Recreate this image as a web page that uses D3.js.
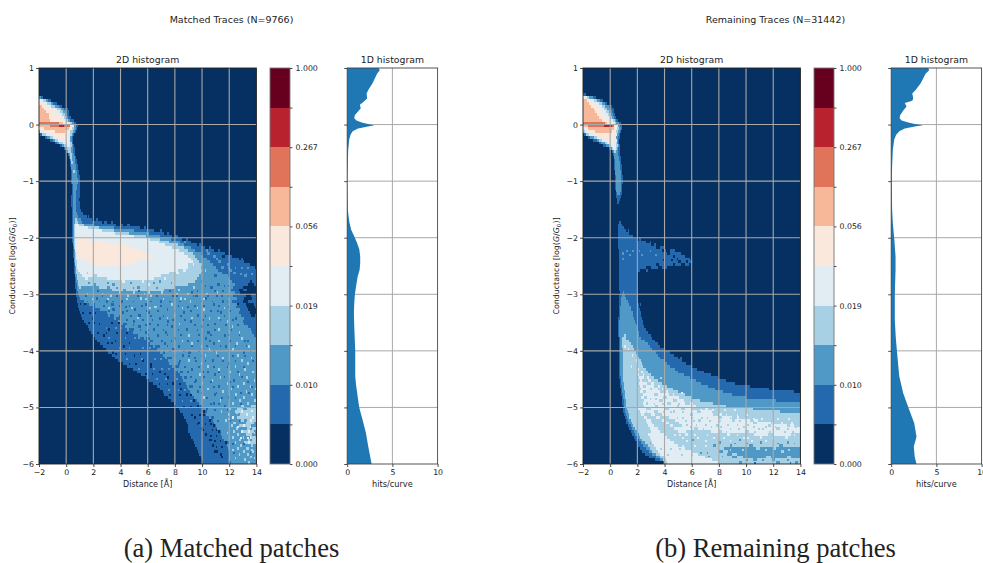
<!DOCTYPE html>
<html>
<head>
<meta charset="utf-8">
<script src="https://cdn.jsdelivr.net/npm/d3@7"></script>
<style>
  html, body { margin: 0; padding: 0; background: #fff; overflow: hidden; }
  svg { display: block; }
  text { font-family: "DejaVu Sans", sans-serif; fill: #222; }
</style>
</head>
<body>
<div id="chart"></div>
<script>
// Levels of the stepped colour scale, dark blue to dark red
const levelColors = ['#053061', '#2468ad', '#5098c6', '#a7d0e4', '#e1edf3', '#fae8dd', '#f7b799', '#e0745a', '#b8222f', '#67001f']
const colorbarLabels = ['0.000', '', '0.010', '', '0.019', '', '0.056', '', '0.267', '', '1.000']

const distanceTicks = [-2, 0, 2, 4, 6, 8, 10, 12, 14]
const conductanceTicks = [1, 0, -1, -2, -3, -4, -5, -6]
const hitsTicks = [0, 5, 10]

// Each row: top conductance of a 0.05 tall row, then level, end distance, level, end distance ... last level
const matchedRows = [
  '.5 2 -1.85 1 -1.7 0',
  '.45 4 -1.7 3 -1.5 2 -1.35 1 -1.15 0',
  '.4 5 -1.7 4 -1.4 3 -1.15 2 -.95 1 -.7 0',
  '.35 6 -1.8 5 -1.35 4 -1.1 3 -.8 2 -.5 1 -.3 0',
  '.3 6 -1.6 5 -1.05 4 -.7 3 -.4 2 -.15 1 .1 0',
  '.25 6 -1.45 5 -.85 4 -.45 3 -.25 2 0 1 .2 0',
  '.2 6 -1.3 5 -.6 4 -.3 3 -.1 2 .05 1 .22 0',
  '.15 6 -1.25 5 -.4 4 -.15 3 0 2 .15 1 .33 0',
  '.1 6 -1.2 5 -.2 4 0 3 .15 2 .3 1 .55 0',
  '.05 7 -.5 6 -.2 5 .05 4 .25 3 .4 2 .55 1 .72 0',
  '0 6 -1.2 7 -.5 8 -.15 7 .28 5 .45 4 .55 2 .7 1 .85 0',
  '-.05 5 -1.65 6 .2 5 .45 3 .6 2 .72 1 .82 0',
  '-.1 2 -1.9 4 -1.6 5 -.85 6 -.1 5 .3 3 .5 2 .62 1 .72 0',
  '-.15 0 -1.93 1 -1.75 3 -1.5 4 -1.1 5 .15 4 .3 3 .42 2 .5 1 .58 0',
  '-.2 0 -1.56 1 -1.4 2 -1.2 3 -1 4 -.6 5 .15 4 .3 2 .42 1 .5 0',
  '-.25 0 -1.2 1 -1 2 -.85 3 -.6 4 -.25 5 .15 4 .3 2 .4 1 .47 0',
  '-.3 0 -.82 1 -.65 2 -.5 3 -.25 4 .3 3 .4 2 .45 1 .5 0',
  '-.35 0 -.45 1 -.3 2 -.15 3 .05 4 .25 3 .4 2 .48 1 .57 0',
  '-.4 0 -.15 1 -.05 2 .05 3 .35 2 .5 1 .62 0',
  '-.45 0 0 1 .05 2 .12 3 .35 2 .52 1 .65 0',
  '-.5 0 .1 1 .18 2 .25 3 .4 2 .58 1 .68 0',
  '-.55 0 .2 1 .25 2 .3 3 .42 2 .62 1 .75 0',
  '-.6 0 .25 1 .3 2 .35 3 .45 2 .65 1 .78 0',
  '-.65 0 .28 1 .33 2 .38 3 .48 2 .68 1 .82 0',
  '-.7 0 .3 1 .35 2 .72 1 .88 0',
  '-.75 0 .32 1 .38 2 .75 1 .9 0',
  '-.8 0 .35 1 .42 2 .5 3 .62 2 .78 1 .95 0',
  '-.85 0 .35 1 .42 2 .8 1 .98 0',
  '-.9 0 .38 1 .45 2 .82 1 1 0',
  '-.95 0 .38 1 .45 2 .85 1 1 0',
  '-1 0 .38 1 .45 2 .85 1 1 0',
  '-1.05 0 .4 1 .5 2 .8 1 1.02 0',
  '-1.1 0 .4 1 .48 2 .78 1 1 0',
  '-1.15 0 .4 1 .5 2 .75 1 1.02 0',
  '-1.2 0 .4 1 .48 2 .72 1 1 0',
  '-1.25 0 .38 1 .5 2 .7 1 1 0',
  '-1.3 0 .38 1 .5 2 .72 1 .98 0',
  '-1.35 0 .38 1 .52 2 .7 1 1 0',
  '-1.4 0 .38 1 .5 2 .72 1 1 0',
  '-1.45 0 .4 1 .52 2 .7 1 1.02 0',
  '-1.5 0 .4 1 .5 2 .75 1 1.1 0',
  '-1.55 0 .42 1 .5 2 .8 1 1.25 0',
  '-1.6 0 .42 1 .5 2 .85 1 1.5 0 1.6 1 1.7 0',
  '-1.65 0 .45 1 .52 2 .65 3 .8 2 1.1 1 1.9 0 2.2 1 2.35 0',
  '-1.7 0 .45 1 .52 2 .62 3 .9 2 1.2 1 2.6 0 2.8 1 3 0 3.3 1 3.45 0',
  '-1.75 0 .45 1 .5 2 .58 3 .68 4 .95 3 1.3 2 2 1 3.7 0 4 1 4.2 0 4.5 1 4.7 0',
  '-1.8 0 .45 1 .52 2 .58 3 .64 4 1.6 3 2.4 2 3.5 1 5.4 0 5.7 1 5.85 0',
  '-1.85 0 .45 1 .5 2 .56 3 .62 4 2.6 3 3.5 2 5 1 6.5 0 6.9 1 7.05 0',
  '-1.9 0 .45 1 .5 2 .56 3 .62 4 3.6 3 4.6 2 6.1 1 7.2 0 7.4 1 7.55 0',
  '-1.95 0 .45 1 .5 2 .56 3 .62 4 5 3 5.9 2 6.9 1 7.8 0 8 1 8.2 0',
  '-2 0 .45 1 .5 2 .56 3 .62 4 .8 5 1.7 4 6.2 3 6.9 2 7.7 1 8.5 0 8.8 1 8.95 0',
  '-2.05 0 .45 1 .5 2 .56 3 .64 4 .8 5 3 4 6.8 3 7.6 2 8.4 1 8.7 2 8.85 1 9.2 0',
  '-2.1 0 .48 1 .53 2 .6 3 .66 4 .82 5 4.3 4 7.3 3 8.2 2 8.7 1 9.6 0 9.8 1 9.95 0',
  '-2.15 0 .5 1 .55 2 .6 3 .68 4 .84 5 4.8 4 7.8 3 8.7 2 9.2 1 10.2 0 10.5 1 10.65 0',
  '-2.2 0 .5 1 .56 2 .62 3 .68 4 .86 5 5.5 4 8.3 3 9 2 9.5 1 10.3 2 10.45 1 10.9 0 11.2 1 11.3 0',
  '-2.25 0 .52 1 .58 2 .64 3 .7 4 .88 5 6 4 8.7 3 9.3 2 9.9 1 10.4 2 10.6 1 11.7 0',
  '-2.3 0 .52 1 .58 2 .64 3 .72 4 .9 5 6.4 4 9 3 9.5 2 10.1 1 10.8 2 11 1 11.5 0 11.7 1 12.2 0',
  '-2.35 0 .54 1 .6 2 .66 3 .74 4 1.1 5 6 4 9.2 3 9.6 2 10.4 1 11 2 11.2 1 12.7 0 12.9 1 13 0',
  '-2.4 0 .55 1 .6 2 .66 3 .76 4 1.6 5 5.2 4 9.3 3 9.8 2 10.6 1 11.2 2 11.4 1 13.1 0',
  '-2.45 0 .56 1 .62 2 .68 3 .78 4 2 5 4.6 4 9 3 9.3 4 9.4 3 10 2 10.8 1 11.8 2 12 1 13.5 0',
  '-2.5 0 .58 1 .64 2 .7 3 .82 4 9 3 9.9 2 11 1 11.4 2 11.6 1 13.9 0',
  '-2.55 0 .6 1 .66 2 .72 3 .9 4 8.2 3 8.6 4 8.8 3 10 2 10.2 3 10.3 2 11.2 1 12 2 12.2 1',
  '-2.6 0 .6 1 .66 2 .74 3 1 4 1.5 3 1.6 4 7.6 3 8.1 4 8.3 3 9.9 2 11.5 1 12.3 2 12.5 1',
  '-2.65 0 .62 1 .68 2 .76 3 1.2 4 2 3 2.3 4 7 3 9.8 2 10.9 1 11.1 2 11.9 1 13.1 2 13.3 1',
  '-2.7 0 .62 1 .7 2 .8 3 1.4 4 1.6 3 3 4 6.5 3 7.2 4 7.35 3 9.6 2 12 1',
  '-2.75 0 .64 1 .72 2 .85 3 4.1 4 4.3 3 5.6 4 5.75 3 6.8 2 7 3 9.5 2 9.9 1 10 2 12.2 1 13.5 0 13.7 1',
  '-2.8 0 .66 1 .76 2 .9 3 2 2 2.2 3 3.4 2 3.6 3 6 4 6.15 3 9 2 11.1 1 11.3 2 12.4 1 13.4 0 13.8 1',
  '-2.85 0 .68 1 .78 2 .95 3 1.1 2 2.4 3 3 2 3.2 3 5.2 2 5.4 3 8 2 9.3 3 9.45 2 10.6 1 10.8 2 12.3 1 13 0 14',
  '-2.9 0 .7 1 .8 2 3.4 3 4.2 2 4.4 3 7.2 2 8.2 3 8.35 2 12.1 1 12.7 0 13 1 13.3 0',
  '-2.95 0 .7 1 .85 2 3.9 3 4.05 2 4.9 3 5.1 2 6 3 6.2 2 7 3 7.15 2 9.2 1 9.35 2 11.1 3 11.2 2 12.4 1 12.8 0',
  '-3 0 .72 1 .95 2 3.2 3 3.35 2 4.5 3 4.65 2 6.2 3 6.35 2 7.8 1 7.95 2 9.5 1 9.7 2 11 1 11.2 2 12.3 1 13.2 0 13.6 1',
  '-3.05 0 .76 1 1.05 2 2.2 1 2.35 2 5.4 3 5.55 2 8.4 3 8.5 2 10.2 1 10.35 2 12.6 1 13.1 0 13.7 1',
  '-3.1 0 .8 1 1.3 2 2.9 1 3.05 2 4 1 4.15 2 6.9 1 7.05 2 9.1 3 9.2 2 11.5 1 11.65 2 12.2 1 13 0 13.4 1',
  '-3.15 0 .85 1 1.7 2 2 1 2.15 2 3.3 1 3.5 2 5.8 1 5.95 2 7.7 3 7.85 2 10.8 1 10.95 2 12.6 1 13.2 0 13.8 1',
  '-3.2 0 .9 1 2.1 2 4.3 1 4.45 2 6.5 3 6.65 2 8.9 1 9.05 2 11.9 1 12 2 12.5 1 13.3 0 13.9 1',
  '-3.25 0 .94 1 2.5 2 3.4 1 3.6 2 5 1 5.15 2 7.4 1 7.5 2 10.1 3 10.2 2 12.8 1 13.4 0 14',
  '-3.3 0 1 1 3 2 4.1 1 4.25 2 6 1 6.15 2 8.6 1 8.75 2 11.3 1 11.45 2 12.7 1 13.5 0 14',
  '-3.35 0 1.1 1 3.1 2 3.25 1 3.5 2 5.3 1 5.5 2 7.9 3 8 2 9.6 1 9.75 2 12.9 1 13.6 0 13.9 1',
  '-3.4 0 1.2 1 1.9 0 2 1 3.5 2 3.65 1 4 2 6.8 1 6.95 2 10.5 3 10.6 2 12.4 1 12.55 2 13.1 1',
  '-3.45 0 1.3 1 3.8 2 4.9 1 5.05 2 7.4 1 7.55 2 9.1 1 9.25 2 11.8 3 11.9 2 13 1',
  '-3.5 0 1.45 1 2.4 0 2.5 1 4 2 4.15 1 4.5 2 6.1 1 6.25 2 8.3 3 8.4 2 10.9 1 11.05 2 13.1 1',
  '-3.55 0 1.6 1 4.3 2 5.3 1 5.5 2 7.7 1 7.85 2 9.9 1 10.05 2 12.2 3 12.3 2 13.4 1',
  '-3.6 0 1.7 1 3.1 0 3.2 1 4.5 2 4.65 1 5 2 6.4 1 6.55 2 8.8 1 8.95 2 11.2 3 11.3 2 13.6 1',
  '-3.65 0 1.85 1 4.9 2 5.8 1 6 2 7.3 1 7.45 2 10.4 1 10.55 2 12.7 3 12.8 2 13.7 1',
  '-3.7 0 2 1 2.7 0 2.85 1 5.3 2 6.7 1 6.85 2 9 3 9.1 2 11.6 1 11.75 2 13.8 1',
  '-3.75 0 2.15 1 5.7 2 5.9 1 6.2 2 7.9 1 8.05 2 10.2 1 10.35 2 12.9 3 13 2',
  '-3.8 0 2.3 1 3.6 0 3.7 1 6 2 6.2 1 6.4 2 8.5 3 8.6 2 9.6 1 9.75 2 11.2 3 11.3 2 13.3 1 13.45 2',
  '-3.85 0 2.5 1 6.2 2 7.2 1 7.35 2 9.2 3 9.3 2 10.8 1 10.95 2 12.5 3 12.65 2',
  '-3.9 0 2.7 1 4.2 0 4.35 1 6.4 2 6.55 1 6.9 2 8.2 1 8.35 2 9.9 3 10 2 11.7 1 11.85 2 13.4 3 13.5 2',
  '-3.95 0 2.9 1 6.7 2 7.8 1 8 2 10.5 3 10.6 2 12.2 3 12.35 2',
  '-4 0 3.1 1 3.4 0 3.55 1 6.9 2 7.1 1 7.3 2 9 1 9.15 2 11 3 11.1 2 13 1 13.15 2',
  '-4.05 0 3.4 1 5 0 5.1 1 7.1 2 8.5 1 8.65 2 10.2 3 10.3 2 12.6 3 12.7 2',
  '-4.1 0 3.6 1 7.3 2 7.45 1 7.8 2 9.4 1 9.55 2 11.5 3 11.6 2 13.6 3 13.7 2',
  '-4.15 0 3.8 1 5.6 0 5.75 1 7.5 2 9 3 9.1 2 10.7 1 10.85 2 12.9 3 13 2',
  '-4.2 0 4.2 1 7.6 2 8.2 1 8.35 2 9.9 3 10 2 11.9 1 12.05 2 13.3 3 13.45 2',
  '-4.25 0 4.5 1 6.2 0 6.35 1 7.8 2 7.95 1 8.3 2 10.4 3 10.5 2 12.4 3 12.5 2',
  '-4.3 0 4.9 1 8 2 9.2 1 9.35 2 11.2 3 11.3 2 13.1 3 13.2 2',
  '-4.35 0 5.2 1 6.8 0 6.95 1 8.2 2 8.35 1 8.6 2 10 1 10.15 2 12 3 12.1 2 13.7 3 13.8 2',
  '-4.4 0 5.5 1 8.4 2 9.8 3 9.9 2 10.9 1 11.05 2 12.7 3 12.8 2',
  '-4.45 0 5.9 1 7.4 0 7.55 1 8.5 2 8.65 1 8.9 2 11.3 3 11.4 2 13.2 3 13.35 2',
  '-4.5 0 6.1 1 8.6 2 9.5 1 9.65 2 10.7 3 10.8 2 12.3 1 12.45 2 13.8 3 13.9 2',
  '-4.55 0 6.4 1 7.8 0 7.95 1 8.8 2 10 3 10.1 2 11.8 3 11.9 2 13 3 13.15 2',
  '-4.6 0 6.7 1 8.9 2 9.05 1 9.3 2 11.2 1 11.35 2 12.6 3 12.7 2 13.5 3 13.6 2',
  '-4.65 0 6.9 1 8.4 0 8.55 1 9 2 10.4 3 10.5 2 12.1 3 12.2 2 13.9 3',
  '-4.7 0 7.1 1 9.1 2 9.6 1 9.75 2 11.5 3 11.6 2 13.2 3 13.3 2',
  '-4.75 0 7.2 1 8.8 0 8.95 1 9.2 2 10.9 1 11.05 2 12.4 3 12.55 2 13.6 3 13.75 2',
  '-4.8 0 7.5 1 9.4 2 10.1 3 10.2 2 11.9 1 12 2 13 3 13.15 2',
  '-4.85 0 7.7 1 9.3 0 9.45 1 9.6 2 11.3 3 11.4 2 12.7 3 12.85 2 13.8 3',
  '-4.9 0 7.9 1 9.8 2 10.8 1 10.95 2 12.2 3 12.35 2 13.3 3 13.45 2',
  '-4.95 0 8.1 1 9.6 0 9.75 1 10 2 11.6 1 11.75 2 12.9 3 13.1 2 13.6 3',
  '-5 0 8.3 1 10.1 2 10.3 1 10.45 2 12 3 12.15 2 12.6 3 13 2 13.3 3 14',
  '-5.05 0 8.4 1 10.1 0 10.2 1 10.4 2 11.4 3 11.5 2 12.4 3 12.9 4 13 3 13.6 4 13.75 3',
  '-5.1 0 8.6 1 10.3 2 11.9 3 12.05 2 12.8 3 13.2 4 13.35 3 14',
  '-5.15 0 8.7 1 9.4 0 9.55 1 10.5 2 10.65 1 10.9 2 12.2 4 12.35 2 12.6 3 13.7 4 13.85 3',
  '-5.2 0 8.8 1 10.5 0 10.65 1 10.8 2 11.7 3 11.85 2 12.9 3 13.1 2 13.3 3 13.5 4 13.65 3',
  '-5.25 0 8.9 1 9.7 0 9.85 1 10.9 2 12.3 3 12.5 2 13.2 3 13.8 2',
  '-5.3 0 9 1 10.8 0 10.95 1 11 2 12.1 3 12.25 2 12.7 3 13 4 13.15 3 13.6 2',
  '-5.35 0 9 1 9.9 0 10.1 1 11.1 2 12.5 3 12.65 2 13.3 3 13.5 2 13.7 3',
  '-5.4 0 9 1 11.2 0 11.3 1 11.4 2 12.3 3 12.4 2 12.9 4 13.05 3 13.4 4 13.5 3 13.8 2',
  '-5.45 0 9.1 1 10.2 0 10.4 1 11.4 2 12.6 3 12.75 2 13.2 3 13.7 2',
  '-5.5 0 9.2 1 11.5 2 12.2 3 12.35 2 13 3 13.1 2 13.5 4 13.6 3',
  '-5.55 0 9.3 1 10.5 0 10.7 1 11.6 2 12.7 3 12.85 2 13.4 3 13.55 2 13.7 3',
  '-5.6 0 9.4 1 11.7 0 11.85 1 11.95 2 12.4 3 12.5 2 13.1 3 13.4 4 13.5 3 14',
  '-5.65 0 9.5 1 10.7 0 10.9 1 11.8 2 12.8 3 12.95 2 13.6 3 13.75 2',
  '-5.7 0 9.6 1 11.9 2 12.6 3 12.7 2 13.2 3 13.45 2',
  '-5.75 0 9.7 1 10.9 0 11.2 1 11.95 2 13 3 13.15 2 13.7 3 13.85 2',
  '-5.8 0 9.8 1 11.3 0 11.5 1 12 2 12.7 3 12.8 2 13.3 3 13.45 2',
  '-5.85 0 9.9 1 11.4 0 11.55 1 12 2 13.5 3 13.65 2',
  '-5.9 0 10 1 12 2 13.1 3 13.25 2',
  '-5.95 0 10.1 1 12.1 2 13.4 3 13.55 2'
]

// Single cells: conductance, level, then the start distance of each cell
const matchedSpeckle = [
  '-2.52 2 11.9 12.4 12.9 13.3',
  '-2.62 2 12.8 13.2 13.6',
  '-2.72 3 7.8 8.5 9.1',
  '-2.78 2 1.6 3 4.7 6.4 7.7',
  '-2.83 1 10.2 11.6 11.9',
  '-2.88 2 1.8 3.7 4.9 6.6',
  '-2.92 1 2.3 5.3 7.6 9.6 10.9 11.5',
  '-2.97 3 1.5 2.6 5.7 8.1 8.9 10.3',
  '-3.02 1 1.4 2.6 3.7 5.2 6.6 8.1 9.3 10.4 11.4 11.9',
  '-3.07 3 1.9 3 4.4 5.8 7.1 8.7 10.1',
  '-3.11 1 1.5 2.4 3.4 4.9 6.2 7.6 8.3 9.9 10.7 11.8',
  '-3.16 0 1 1.3 12.6',
  '-3.19 1 2.7 3.9 4.6 5.5 6.9 8.2 9.4 10.1 11.2',
  '-3.23 3 3.1 4.8 6.1 8.5 9.6 11.6',
  '-3.27 1 3.1 4.4 5.9 6.7 7.9 9.1 10.6 11.1 12',
  '-3.32 0 1.2 1.7 2.1',
  '-3.36 1 3.9 4.7 6.2 7.1 8.4 10.2 11.6',
  '-3.4 3 5.2 7.4 9.2 11.2',
  '-3.44 1 4.4 5.6 6.3 7.8 8.7 10 11.3 12.2',
  '-3.49 0 1.6 2 3.3 3.8',
  '-3.53 1 4.9 5.8 6.7 7.4 9.4 10.4 11.7 12.6',
  '-3.58 2 2.9 3.6 4 9.2 10.7',
  '-3.62 1 5.4 6 7.1 8.2 9.6 10.9 12.1',
  '-3.67 0 2.3 2.9 3.7 4.4',
  '-3.71 1 6 7.4 8.4 9.7 10.6 11.9 12.7',
  '-3.76 2 3.1 4.3 5 5.3',
  '-3.8 1 7 7.7 8.9 10.5 12 13.1',
  '-3.85 0 3 3.3 4.6',
  '-3.89 1 7.4 9.2 10.3 11.3 12.4 13.2',
  '-3.94 2 3.9 4.6 5.6 6.1',
  '-3.98 1 7.6 8.6 9.7 10.8 11.9 13.5',
  '-4.03 0 3.6 4.3 5.4',
  '-4.07 1 7.9 9 9.9 11.1 12.2 13.1',
  '-4.12 2 4.4 5.5 6.5 6.9',
  '-4.16 1 8.3 9.5 10.2 11.5 12.4 13.7',
  '-4.21 0 4.6 5.1 6.2',
  '-4.26 1 8.7 9.7 10.8 11.8 13',
  '-4.3 2 5.3 6.4 7 7.5',
  '-4.35 1 8.9 10.4 11.2 12.6',
  '-4.39 0 5.8 6.3 7.2',
  '-4.44 1 9.1 10.1 11.6 12.9',
  '-4.48 2 6.6 7.3 8.1',
  '-4.53 1 9.4 10.6 12 13.3',
  '-4.57 0 6.8 7.4 8.3',
  '-4.62 1 9.8 10.8 12.2 13.6',
  '-4.67 2 7.5 8.2 8.7',
  '-4.72 1 9.9 11 12.8 13.4',
  '-4.77 0 7.6 8.3 9.1',
  '-4.82 1 10.3 11.4 12.4',
  '-4.87 2 8.5 9.1',
  '-4.92 1 10.6 11.2 12.8',
  '-4.98 0 8.6 9.1 9.9',
  '-5.03 1 10.9 11.8',
  '-5.08 3 12.5 13.1 13.6',
  '-5.12 0 9.2 9.8 10.1',
  '-5.18 3 11.9 12.9 13.4',
  '-5.23 1 11.1 12 12.7',
  '-5.28 0 9.6 10.2 10.6',
  '-5.33 4 12.6 13.5',
  '-5.38 0 10 10.7 11',
  '-5.43 3 11.8 13.8',
  '-5.48 0 10.6 11',
  '-5.53 4 12.8 13.3',
  '-5.58 0 10.9 11.3',
  '-5.63 1 12.2 13',
  '-5.68 0 11 11.4',
  '-5.73 3 12.2 13.6',
  '-5.78 1 12.3 13.5',
  '-5.88 3 12.4 13.8'
]

const remainingRows = [
  '.55 1 -1.75 0',
  '.5 4 -1.7 3 -1.55 2 -1.3 1 -1.05 0',
  '.45 6 -1.7 5 -1.45 4 -1.2 3 -1 2 -.75 1 -.55 0',
  '.4 6 -1.55 5 -1.2 4 -.85 3 -.6 2 -.4 1 -.25 0',
  '.35 6 -1.4 5 -.95 4 -.6 3 -.4 2 -.1 1 .15 0',
  '.3 6 -1.2 5 -.8 4 -.45 3 -.25 2 .05 1 .28 0',
  '.25 6 -1.1 5 -.65 4 -.3 3 -.05 2 .15 1 .3 0',
  '.2 6 -.95 5 -.45 4 -.15 3 .05 2 .2 1 .32 0',
  '.15 6 -.8 5 -.3 4 0 3 .15 2 .3 1 .42 0',
  '.1 6 -.6 5 -.05 4 .2 3 .35 2 .45 1 .6 0',
  '.05 7 -.4 6 -.2 5 .1 4 .35 3 .45 2 .65 1 .8 0',
  '0 6 -1.6 7 -.45 8 .1 7 .3 5 .5 4 .6 2 .75 1 .9 0',
  '-.05 4 -1.8 5 -1.6 6 .25 5 .5 3 .65 2 .78 1 .88 0',
  '-.1 3 -1.85 4 -1.65 5 -1.15 6 .15 5 .45 3 .6 2 .72 1 .82 0',
  '-.15 0 -1.95 1 -1.8 3 -1.55 4 -1.2 5 .4 4 .52 2 .62 1 .75 0',
  '-.2 0 -1.6 1 -1.45 2 -1.2 3 -1 4 -.6 5 .35 4 .45 2 .58 1 .7 0',
  '-.25 0 -1.25 1 -1 2 -.85 3 -.6 4 -.2 5 .3 4 .48 2 .55 1 .65 0',
  '-.3 0 -.85 1 -.65 2 -.4 3 -.2 4 0 5 .3 4 .45 3 .52 2 .6 1 .68 0',
  '-.35 0 -.55 1 -.3 2 -.05 3 .05 4 .45 3 .55 2 .62 1 .7 0',
  '-.4 0 -.1 1 .02 2 .1 3 .2 4 .4 3 .52 2 .6 1 .7 0',
  '-.45 0 .1 1 .18 2 .3 3 .45 2 .6 1 .72 0',
  '-.5 0 .2 1 .25 2 .58 1 .72 0',
  '-.55 0 .25 1 .3 2 .66 1 .78 0',
  '-.6 0 .27 1 .32 2 .68 1 .8 0',
  '-.65 0 .28 1 .34 2 .7 1 .82 0',
  '-.7 0 .3 1 .36 2 .72 1 .85 0',
  '-.75 0 .3 1 .36 2 .74 1 .88 0',
  '-.8 0 .32 1 .38 2 .76 1 .85 0',
  '-.85 0 .32 1 .38 2 .78 1 .9 0',
  '-.9 0 .34 1 .4 2 .8 1 .92 0',
  '-.95 0 .34 1 .4 2 .8 1 .92 0',
  '-1 0 .36 1 .42 2 .82 1 .92 0',
  '-1.05 0 .38 1 .44 2 .82 1 .9 0',
  '-1.1 0 .38 1 .46 2 .8 1 .9 0',
  '-1.15 0 .4 1 .46 2 .78 1 .88 0',
  '-1.2 0 .42 1 .5 2 .7 1 .84 0',
  '-1.25 0 .44 1 .8 0',
  '-1.3 0 .48 1 .75 0',
  '-1.35 0 .52 1 .68 0',
  '-1.7 0 .62 1 .78 0',
  '-1.75 0 .6 1 .85 0',
  '-1.8 0 .6 1 1 0',
  '-1.85 0 .6 1 1.15 0 1.3 1 1.4 0',
  '-1.9 0 .6 1 1.4 0',
  '-1.95 0 .58 1 1.7 0',
  '-2 0 .58 1 2 0 2.15 1 2.3 0',
  '-2.05 0 .6 1 2.6 0 2.9 1 3 0',
  '-2.1 0 .6 1 3 0 3.2 1 3.4 0',
  '-2.15 0 .6 1 3.4 0 3.7 1 3.95 0',
  '-2.2 0 .62 1 3.8 0 4 1 4.1 0 4.4 1 4.8 0',
  '-2.25 0 .62 1 .9 2 1 1 4.2 0 4.4 1 5.2 0',
  '-2.3 0 .62 1 4.6 0 4.8 1 5.5 0',
  '-2.35 0 .62 1 .9 2 1 1 4.9 0 5 1 5.9 0',
  '-2.4 0 .62 1 5 0 5.2 1 5.6 0 5.75 1 6 0',
  '-2.45 0 .62 1 3.4 0 3.6 1 4.6 0 4.8 1 5.2 0 5.5 1 5.8 0',
  '-2.5 0 .62 1 2.6 0 3 1 3.5 0 3.8 1 4.2 0',
  '-2.55 0 .64 1 2.2 0 2.6 1 2.8 0',
  '-2.6 0 .64 1 2 0',
  '-2.65 0 .65 1 2 0',
  '-2.7 0 .65 1 1.95 0',
  '-2.75 0 .66 1 1.95 0',
  '-2.8 0 .66 1 1.95 0',
  '-2.85 0 .67 1 2 0',
  '-2.9 0 .68 1 2 0',
  '-2.95 0 .7 1 .95 2 1.05 1 2 0',
  '-3 0 .68 1 .85 2 1.1 1 2.05 0',
  '-3.05 0 .66 1 .8 2 1.2 1 2.05 0',
  '-3.1 0 .65 1 .78 2 1.3 1 2.05 0',
  '-3.15 0 .65 1 .76 2 1.4 1 2.1 0 2.2 1 2.3 0',
  '-3.2 0 .64 1 .75 2 1.5 1 2.15 0',
  '-3.25 0 .63 1 .74 2 1.55 1 2.2 0',
  '-3.3 0 .62 1 .73 2 1.65 1 2.25 0',
  '-3.35 0 .62 1 .72 2 1.7 1 2.3 0',
  '-3.4 0 .61 1 .7 2 1.75 1 2.35 0',
  '-3.45 0 .6 1 .68 2 1.85 1 2.4 0',
  '-3.5 0 .6 1 .66 2 1.9 1 2.45 0',
  '-3.55 0 .6 1 .66 2 2 1 2.5 0',
  '-3.6 0 .6 1 .66 2 2.05 1 2.65 0',
  '-3.65 0 .6 1 .66 2 2.1 1 2.8 0',
  '-3.7 0 .6 1 .68 2 1.05 3 1.15 2 2.15 1 3 0',
  '-3.75 0 .62 1 .7 2 .9 3 1.2 2 2.3 1 3.1 0',
  '-3.8 0 .62 1 .7 2 .9 3 1.35 2 2.55 1 3.3 0',
  '-3.85 0 .63 1 .7 2 .9 3 1.5 2 2.75 1 3.5 0',
  '-3.9 0 .63 1 .7 2 .9 3 1.05 4 1.15 3 1.65 2 2.95 1 3.7 0',
  '-3.95 0 .64 1 .7 2 .92 3 1.3 4 1.4 3 1.75 2 3.1 1 4 0',
  '-4 0 .65 1 .72 2 .92 3 1.9 2 3.4 1 4.4 0',
  '-4.05 0 .65 1 .72 2 .92 3 1.6 4 1.7 3 2 2 3.5 1 4.7 0',
  '-4.1 0 .65 1 .72 2 .93 3 2.1 2 3.7 1 5 0 5.15 1 5.3 0',
  '-4.15 0 .65 1 .72 2 .93 3 1.9 4 2 3 2.25 2 4 1 5.3 0',
  '-4.2 0 .65 1 .72 2 .94 3 2.35 2 4.2 1 5.6 0',
  '-4.25 0 .65 1 .73 2 .95 3 1.5 4 1.6 3 2.45 2 4.4 1 6 0',
  '-4.3 0 .65 1 .74 2 .95 3 2 4 2.15 3 2.65 2 4.75 1 6.4 0',
  '-4.35 0 .66 1 .74 2 .96 3 2.3 4 2.4 3 2.8 2 5 1 6.9 0',
  '-4.4 0 .66 1 .75 2 .96 3 2 4 2.15 3 2.4 4 2.5 3 3 2 5.4 1 7.4 0',
  '-4.45 0 .68 1 .76 2 .97 3 2.1 4 2.5 3 2.7 4 2.85 3 3.25 2 5.9 1 7.9 0',
  '-4.5 0 .7 1 .78 2 .98 3 2.2 4 2.35 3 2.8 4 3 3 3.5 2 6.3 1 8.5 0',
  '-4.55 0 .72 1 .8 2 1 3 2.1 4 2.7 3 3 4 3.2 3 3.8 2 6.7 1 9.2 0',
  '-4.6 0 .75 1 .84 2 1.02 3 2.2 4 2.4 3 2.6 4 3.2 3 3.5 4 3.65 3 4.2 2 7.2 1 10.3 0',
  '-4.65 0 .78 1 .88 2 1.04 3 2.3 4 2.9 3 3.1 4 3.5 3 3.8 4 3.9 3 4.6 2 7.7 1 11.7 0',
  '-4.7 0 .8 1 .9 2 1.06 3 2.2 4 2.4 3 2.6 4 3.7 3 4.1 4 4.25 3 5 2 8.3 1 13.5 0',
  '-4.75 0 .82 1 .94 2 1.08 3 2.4 4 3.2 3 3.5 4 4.3 3 4.6 4 4.7 3 5.5 2 9 1',
  '-4.8 0 .85 1 .96 2 1.1 3 2.3 4 2.5 3 2.7 4 3.9 3 4.2 4 5.1 3 6 2 10 1',
  '-4.85 0 .88 1 1 2 1.13 3 2.5 4 3.6 3 3.9 4 4.6 3 4.9 4 5.4 3 6.6 2 12.2 1',
  '-4.9 0 .9 1 1.02 2 1.16 3 2.4 4 2.6 3 2.8 4 4.2 3 4.5 4 5.5 3 5.9 4 6.1 3 7.6 2',
  '-4.95 0 .93 1 1.05 2 1.2 3 2.5 4 3.3 3 3.5 4 4.9 3 5.1 4 6.3 3 8.5 2',
  '-5 0 .95 1 1.08 2 1.25 3 2 4 2.6 3 3 4 4 3 4.3 4 5.2 3 5.5 4 6 3 7 4 7.2 3 10.5 2',
  '-5.05 0 .98 1 1.12 2 1.3 3 2.2 4 3.2 3 3.5 4 4.6 3 4.8 4 6.4 3 6.7 4 7.5 3 12.5 2',
  '-5.1 0 1.02 1 1.16 2 1.35 3 2.3 4 2.5 3 3 4 3.3 3 3.8 4 5.9 3 6.1 4 7.6 3 8 4 8.2 3 14',
  '-5.15 0 1.08 1 1.22 2 1.42 3 2.5 4 2.7 3 3.4 4 3.7 3 4.3 4 7.9 3 8.2 4 9 3 9.3 4 9.5 3',
  '-5.2 0 1.14 1 1.3 2 1.5 3 2.6 4 3 3 3.8 4 4 3 4.8 4 6.5 3 6.7 4 9 3 9.2 4 10.3 3 10.6 4 10.9 3',
  '-5.25 0 1.2 1 1.38 2 1.6 3 2.7 4 3.1 3 4.1 4 4.3 3 5.1 4 10.5 3 10.8 4 11.8 3',
  '-5.3 0 1.3 1 1.5 2 1.7 3 2.8 4 3.2 3 4.4 4 4.6 3 5.3 4 7.8 3 8 4 11.6 3 11.8 4 13 3 13.2 4 13.5 3',
  '-5.35 0 1.42 1 1.6 2 1.85 3 2.9 4 3.5 3 4.7 4 6.2 3 6.5 4 12.2 3 12.5 4 14',
  '-5.4 0 1.52 1 1.72 2 1.95 3 3 4 3.7 3 5 4 5.6 3 7.4 4 8 3 8.2 4 9.9 3 10.2 4 14',
  '-5.45 0 1.62 1 1.85 2 2.1 3 2.8 4 4 3 5.5 4 5.7 3 8.6 4 8.8 3 10.6 4 11.6 3 12 4 13.3 3',
  '-5.5 0 1.72 1 1.98 2 2.22 3 2.9 4 4.2 3 11 4 11.2 3 12.9 4 13.1 3',
  '-5.55 0 1.85 1 2.1 2 2.35 3 3 4 4.4 3 6 2 6.15 3 9.5 2 9.65 3 14',
  '-5.6 0 1.95 1 2.25 2 2.55 3 3.1 4 4.7 3 8 2 8.15 3 11 2 11.2 3 13 2 13.15 3',
  '-5.65 0 2.08 1 2.4 2 2.75 3 3.2 4 5 3 7.6 2 7.8 3 8.8 2 9 3 10.2 2 10.5 3 12.4 2 12.7 3',
  '-5.7 0 2.2 1 2.6 2 2.95 3 3.4 4 5.5 3 8.4 2 10.7 3 11 2 12 3 12.2 2',
  '-5.75 0 2.35 1 2.85 2 3.1 3 3.5 4 6 3 8 2 8.3 3 8.7 2 12.6 3 12.8 2',
  '-5.8 0 2.55 1 3.05 2 3.4 3 3.7 4 6.5 3 8.6 2 9 3 9.3 2 14',
  '-5.85 0 2.85 1 3.35 2 3.65 3 4 4 7 3 9 2 9.3 3 9.8 2 11.5 3 11.8 2 13 3 13.3 2',
  '-5.9 0 3.3 1 3.65 2 3.9 3 4.1 4 7.5 3 10.5 2 10.8 3 11.9 2 12.1 3 14',
  '-5.95 0 3.9 1 4 2 4.05 3 4.15 4 7.9 3 9.5 2 9.7 3 12.2 2 12.5 3 13.6 2 13.8 3'
]

const remainingSpeckle = [
  '-2.22 2 1.2 1.6 2.1 2.9',
  '-2.29 2 1.4 2.3 3.3',
  '-2.38 0 3.9 4.5',
  '-4.47 3 3.7',
  '-4.72 4 5.2',
  '-4.83 3 2.9 3.3 4.6',
  '-4.92 3 3.2 3.8 5',
  '-5.02 4 5.9 6.6 7.5 8.4 9.1',
  '-5.07 3 2.6 3.9 4.4 5.3',
  '-5.12 4 6.6 7.2 8.5 9.3 10',
  '-5.17 3 4.9 5.3 6 6.7 7.1 8.8',
  '-5.19 4 9.9 10.5 11.1 12.3 13.1',
  '-5.23 3 3.2 5.5 6.1 7.3 8 9.5',
  '-5.26 4 11.9 12.6 13.3',
  '-5.29 3 5.6 6.3 7 8.6 9.3 10.1',
  '-5.33 3 5.9 7.4 8.1 9.8 10.5 11.4 12.1 13.6',
  '-5.37 3 6.8 7.9 8.8 9.4 10.9 11.2 13',
  '-5.42 3 4.3 5.7 8.5 10.6 11.7 12.8 13.4',
  '-5.47 4 4.7 5.1 6.2 7.1 7.9 9.3 12.2 13.5',
  '-5.52 4 5.3 6.4 7.6 8.3 9.8 10.1 11.9',
  '-5.57 4 5.6 7 8.8 10.4 11.4',
  '-5.62 2 2.9 9.1 10 12.3 13.5',
  '-5.67 4 5.3 6.2 7',
  '-5.72 3 3.7 4.4 5.1 5.9',
  '-5.74 3 8.8 9.7 11.4 13.1',
  '-5.78 2 6.6 7.1 10.1 13.4',
  '-5.82 3 4.2 5.2 6',
  '-5.85 2 7.2 8.2 10.4 12.3',
  '-5.92 2 10 11.2 13',
  '-5.97 1 10.6 13.2'
]

// 1D histograms: conductance and hits/curve
const matchedHistG = [1, .96, .9, .82, .73, .61, .55, .46, .41, .35, .29, .23, .17, .11, .07, .035, .01, -.01, -.035, -.07, -.12, -.18, -.27, -.45, -1.03, -1.5, -1.62, -1.74, -1.86, -2, -2.1, -2.2, -2.33, -2.45, -2.57, -2.69, -2.8, -3, -3.16, -3.33, -3.57, -4, -4.45, -4.63, -5, -5.22, -5.45, -5.69, -6]
const matchedHistV = [3.5, 3.6, 3.3, 3.07, 2.8, 2.33, 2.15, 2.2, 1.85, 1.4, 1.5, 1.2, .85, .78, 1.03, 1.6, 2.3, 3, 2.3, 1.2, .6, .37, .22, .11, .02, .07, .15, .26, .44, .85, 1.1, 1.33, 1.44, 1.44, 1.37, 1.15, 1.04, .85, .78, .74, .78, .89, .89, 1, 1.33, 1.7, 2.07, 2.33, 2.7]

const remainingHistG = [1, .96, .9, .82, .73, .61, .55, .46, .42, .38, .32, .26, .17, .11, .07, .035, .01, -.01, -.035, -.07, -.12, -.18, -.27, -.45, -.74, -1.03, -1.5, -1.74, -2, -2.33, -2.57, -3, -3.45, -3.75, -4, -4.45, -4.75, -5, -5.28, -5.52, -5.69, -5.87, -6]
const remainingHistV = [4.1, 4.2, 3.8, 3.55, 3.26, 2.7, 2.33, 2.44, 2.33, 1.5, 1.7, 1.4, 1, .93, 1.15, 1.9, 2.6, 3.5, 2.6, 1.5, .9, .55, .33, .18, .1, .07, .1, .18, .33, .48, .48, .4, .4, .5, .63, .89, 1.33, 1.9, 2.55, 2.8, 2.5, 2.6, 2.8]

const width = 983
const height = 563
const plotTop = 68
const plotBottom = 464
const gridColor = '#a8a8a8'
const speckleWidth = 0.125
const speckleHeight = 0.035

const svg = d3.select('#chart').append('svg').attr('width', width).attr('height', height)

function parseRow(row) {
  const t = row.split(' ').map(Number)
  const cells = []
  let start = -2
  for (let i = 1; i < t.length; i += 2) {
    const end = i + 1 < t.length ? t[i + 1] : 14
    cells.push({ g: t[0], level: t[i], from: start, to: end, tall: 0.05 })
    start = end
  }
  return cells
}

function parseSpeckle(row) {
  const [g, level, ...starts] = row.split(' ').map(Number)
  return starts.map((from) => ({ g, level, from, to: from + speckleWidth, tall: speckleHeight }))
}

function styleAxis(node) {
  node.selectAll('.domain').remove()
  node.selectAll('line').attr('stroke', '#222').attr('stroke-width', 0.8)
  node.selectAll('text').attr('font-size', 7.8)
}

function addFrame(g, x0, x1, y0, y1, stroke) {
  g.append('rect')
    .attr('x', x0)
    .attr('y', y0)
    .attr('width', x1 - x0)
    .attr('height', y1 - y0)
    .attr('fill', 'none')
    .attr('stroke', stroke)
    .attr('stroke-width', 0.9)
}

function drawPanel({ title, caption, center, heatLeft, rows, speckle, histG, histV }) {
  const g = svg.append('g')
  const heatRight = heatLeft + 217.4
  const barLeft = heatLeft + 231
  const histLeft = heatLeft + 308.2

  const x = d3.scaleLinear().domain([-2, 14]).range([heatLeft, heatRight])
  const y = d3.scaleLinear().domain([1, -6]).range([plotTop, plotBottom])
  const hits = d3.scaleLinear().domain([0, 10]).range([histLeft, histLeft + 90.4])
  const barY = d3.scaleLinear().domain([0, 10]).range([plotBottom, plotTop])

  g.append('text').attr('x', center).attr('y', 23).attr('text-anchor', 'middle').attr('font-size', 9.5).text(title)

  // 2D histogram
  g.append('rect')
    .attr('x', heatLeft)
    .attr('y', plotTop)
    .attr('width', heatRight - heatLeft)
    .attr('height', plotBottom - plotTop)
    .attr('fill', levelColors[0])

  g.append('g')
    .selectAll('rect')
    .data(rows.flatMap(parseRow).concat(speckle.flatMap(parseSpeckle)))
    .join('rect')
    .attr('shape-rendering', 'crispEdges')
    .attr('x', (d) => x(d.from))
    .attr('width', (d) => Math.max(0, x(d.to) - x(d.from)))
    .attr('y', (d) => y(d.g))
    .attr('height', (d) => y(d.g - d.tall) - y(d.g))
    .attr('fill', (d) => levelColors[d.level])

  const grid2d = g.append('g').attr('stroke', gridColor).attr('stroke-width', 1.1)
  grid2d.selectAll('.v').data(distanceTicks.slice(1, -1)).join('line').attr('class', 'v')
    .attr('x1', x).attr('x2', x).attr('y1', plotTop).attr('y2', plotBottom)
  grid2d.selectAll('.h').data(conductanceTicks.slice(1, -1)).join('line').attr('class', 'h')
    .attr('y1', y).attr('y2', y).attr('x1', heatLeft).attr('x2', heatRight)

  addFrame(g, heatLeft, heatRight, plotTop, plotBottom, '#222')

  g.append('g')
    .attr('transform', `translate(0,${plotBottom})`)
    .call(d3.axisBottom(x).tickValues(distanceTicks).tickSize(3).tickPadding(2))
    .call(styleAxis)
  g.append('g')
    .attr('transform', `translate(${heatLeft},0)`)
    .call(d3.axisLeft(y).tickValues(conductanceTicks).tickFormat(d3.format('d')).tickSize(3).tickPadding(2))
    .call(styleAxis)

  g.append('text').attr('x', (heatLeft + heatRight) / 2).attr('y', 63).attr('text-anchor', 'middle').attr('font-size', 9.3).text('2D histogram')
  g.append('text').attr('x', (heatLeft + heatRight) / 2).attr('y', 487).attr('text-anchor', 'middle').attr('font-size', 8).text('Distance [Å]')

  const yLabel = g.append('text')
    .attr('transform', `translate(${heatLeft - 24},${(plotTop + plotBottom) / 2}) rotate(-90)`)
    .attr('text-anchor', 'middle')
    .attr('font-size', 7.9)
  yLabel.append('tspan').text('Conductance [log(')
  yLabel.append('tspan').attr('font-style', 'italic').text('G')
  yLabel.append('tspan').text('/')
  yLabel.append('tspan').attr('font-style', 'italic').text('G')
  yLabel.append('tspan').attr('dy', 1.5).attr('font-size', 5.6).text('0')
  yLabel.append('tspan').attr('dy', -1.5).text(')]')

  // Colorbar
  g.append('g')
    .selectAll('rect')
    .data(levelColors)
    .join('rect')
    .attr('shape-rendering', 'crispEdges')
    .attr('x', barLeft)
    .attr('width', 20)
    .attr('y', (d, i) => barY(i + 1))
    .attr('height', (d, i) => barY(i) - barY(i + 1))
    .attr('fill', (d) => d)
  addFrame(g, barLeft, barLeft + 20, plotTop, plotBottom, '#777')
  g.append('g')
    .attr('transform', `translate(${barLeft + 20},0)`)
    .call(d3.axisRight(barY).tickValues(d3.range(11)).tickFormat((i) => colorbarLabels[i]).tickSize(2.5).tickPadding(3))
    .call(styleAxis)

  // 1D histogram
  const gridHist = g.append('g').attr('stroke', gridColor).attr('stroke-width', 1)
  gridHist.selectAll('.v').data([5]).join('line').attr('class', 'v')
    .attr('x1', hits).attr('x2', hits).attr('y1', plotTop).attr('y2', plotBottom)
  gridHist.selectAll('.h').data(conductanceTicks.slice(1, -1)).join('line').attr('class', 'h')
    .attr('y1', y).attr('y2', y).attr('x1', hits(0)).attr('x2', hits(10))

  const area = d3.area().y((d, i) => y(histG[i])).x0(hits(0)).x1((d) => hits(d))
  g.append('path').datum(histV).attr('fill', '#1f77b4').attr('d', area)

  addFrame(g, hits(0), hits(10), plotTop, plotBottom, '#444')
  g.append('g')
    .attr('transform', `translate(0,${plotBottom})`)
    .call(d3.axisBottom(hits).tickValues(hitsTicks).tickSize(3).tickPadding(2))
    .call(styleAxis)
  g.append('g')
    .attr('transform', `translate(${hits(0)},0)`)
    .call(d3.axisLeft(y).tickValues(conductanceTicks).tickFormat('').tickSize(3))
    .call(styleAxis)

  g.append('text').attr('x', hits(5)).attr('y', 63).attr('text-anchor', 'middle').attr('font-size', 9.3).text('1D histogram')
  g.append('text').attr('x', hits(5)).attr('y', 487).attr('text-anchor', 'middle').attr('font-size', 8.2).text('hits/curve')

  g.append('text')
    .attr('x', center)
    .attr('y', 557)
    .attr('text-anchor', 'middle')
    .attr('font-size', 26.6)
    .style('font-family', '"Liberation Serif", serif')
    .text(caption)
}

drawPanel({
  title: 'Matched Traces (N=9766)',
  caption: '(a) Matched patches',
  center: 231.5,
  heatLeft: 39,
  rows: matchedRows,
  speckle: matchedSpeckle,
  histG: matchedHistG,
  histV: matchedHistV,
})

drawPanel({
  title: 'Remaining Traces (N=31442)',
  caption: '(b) Remaining patches',
  center: 775.5,
  heatLeft: 583,
  rows: remainingRows,
  speckle: remainingSpeckle,
  histG: remainingHistG,
  histV: remainingHistV,
})
</script>
</body>
</html>
